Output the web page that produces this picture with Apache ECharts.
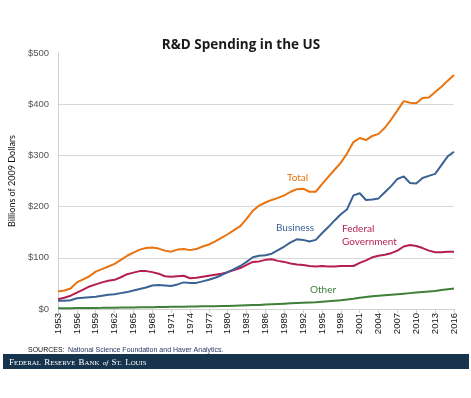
<!DOCTYPE html>
<html>
<head>
<meta charset="utf-8">
<script src="https://cdn.jsdelivr.net/npm/echarts@6/dist/echarts.min.js"></script>
<style>
  html, body { margin: 0; padding: 0; background: #fff; }
  #main { width: 471px; height: 398px; }
</style>
</head>
<body>
<div id="main"></div>
<script>
// years 1953..2016
var years = [];
for (var y = 1953; y <= 2016; y++) years.push(String(y));

// billions of 2009 dollars
var total = [34, 36, 40, 52, 58, 64, 73, 78, 83, 88, 96, 104, 110, 116, 119, 120,
  118, 114, 112, 116, 117, 115, 117, 122, 126, 132, 139, 146, 154, 162, 176, 192,
  202, 208, 213, 217, 222, 229, 234, 235, 229, 229, 244, 258, 272, 286, 304, 326,
  334, 330, 338, 342, 354, 370, 388, 406, 403, 402, 412, 413, 424, 434, 446, 457];
var business = [16, 16, 17, 21, 22, 23, 24, 26, 28, 29, 31, 33, 36, 39, 42, 46,
  47, 46, 45, 48, 52, 51, 51, 54, 57, 61, 66, 72, 78, 84, 92, 101,
  104, 105, 108, 115, 122, 130, 136, 135, 132, 135, 148, 160, 173, 185, 195, 222,
  226, 213, 214, 216, 228, 240, 254, 259, 246, 245, 256, 260, 264, 281, 298, 307];
var federal = [19, 22, 26, 32, 38, 44, 48, 52, 55, 57, 62, 68, 71, 74, 74, 72,
  69, 64, 63, 64, 65, 60, 61, 63, 65, 67, 69, 72, 76, 80, 86, 92,
  93, 96, 97, 94, 92, 89, 87, 86, 84, 83, 84, 83, 83, 84, 84, 84,
  90, 95, 101, 104, 106, 109, 114, 122, 125, 123, 119, 114, 111, 111, 112, 112];
var other = [1.5, 1.6, 1.7, 1.8, 1.9, 2, 2.1, 2.2, 2.4, 2.5, 2.7, 2.9, 3, 3.2, 3.4, 3.6,
  3.8, 4, 4.2, 4.4, 4.6, 4.8, 5, 5.2, 5.4, 5.6, 5.8, 6, 6.4, 6.8, 7.2, 7.6,
  8, 8.6, 9.2, 9.8, 10.4, 11, 11.5, 12, 12.5, 13, 14, 15, 16, 17, 18.5, 20,
  22, 23.5, 25, 26, 27, 28, 29, 30, 31, 32, 33, 34, 35, 37, 38.5, 40];

var yTicks = [0, 100, 200, 300, 400, 500];

var colors = {
  total: '#e8730f',
  business: '#3b6294',
  federal: '#b51f4e',
  other: '#3f7f3a'
};

var chart = echarts.init(document.getElementById('main'), null, { renderer: 'canvas' });

function line(name, data, color) {
  return {
    name: name,
    type: 'line',
    data: data,
    symbol: 'none',
    smooth: false,
    lineStyle: { color: color, width: 2 },
    itemStyle: { color: color }
  };
}

var option = {
  backgroundColor: '#ffffff',
  animation: false,
  title: {
    text: 'R&D Spending in the US',
    left: 236,
    top: 33,
    textAlign: 'center',
    textStyle: { fontFamily: 'Open Sans', fontSize: 13.5, fontWeight: 'bold', color: '#1a1a1a' }
  },
  grid: { left: 53, right: 17, top: 53, bottom: 89 },
  xAxis: {
    type: 'category',
    data: years,
    boundaryGap: false,
    axisLine: { lineStyle: { color: '#d0d0d0', width: 1 } },
    axisTick: { interval: 2, length: 4, lineStyle: { color: '#d0d0d0' } },
    axisLabel: {
      interval: 2,
      rotate: 90,
      margin: 4,
      fontFamily: 'Liberation Sans',
      fontSize: 9.5,
      color: '#111'
    }
  },
  yAxis: {
    type: 'value',
    min: yTicks[0],
    max: yTicks[yTicks.length - 1],
    interval: 100,
    name: 'Billions of 2009 Dollars',
    nameLocation: 'middle',
    nameGap: 36,
    nameTextStyle: { fontFamily: 'Lato', fontSize: 9, color: '#111' },
    axisLine: { show: true, lineStyle: { color: '#d0d0d0' } },
    axisTick: { show: false },
    splitLine: { show: true, showMaxLine: false, lineStyle: { color: '#d9d9d9', width: 1 } },
    axisLabel: {
      margin: 9,
      fontFamily: 'Liberation Sans',
      fontSize: 9.5,
      color: '#555',
      formatter: function (v) { return '$' + v; }
    }
  },
  series: [
    line('Other', other, colors.other),
    line('Federal Government', federal, colors.federal),
    line('Business', business, colors.business),
    line('Total', total, colors.total)
  ],
  graphic: {
    elements: [
      { type: 'text', left: 287, top: 173,
        style: { text: 'Total', fill: colors.total, font: '10px Lato' } },
      { type: 'text', left: 276, top: 223,
        style: { text: 'Business', fill: colors.business, font: '10px Lato' } },
      { type: 'text', left: 342, top: 224,
        style: { text: 'Federal', fill: colors.federal, font: '10px Lato' } },
      { type: 'text', left: 342, top: 237,
        style: { text: 'Government', fill: colors.federal, font: '10px Lato' } },
      { type: 'text', left: 310, top: 285,
        style: { text: 'Other', fill: colors.other, font: '10px Lato' } },
      { type: 'text', left: 28, top: 344,
        style: {
          text: '{b|SOURCES:} {n|National Science Foundation and Haver Analytics.}',
          rich: {
            b: { fill: '#111', font: '7px "Liberation Sans"' },
            n: { fill: '#1f2f5a', font: '7px "Liberation Sans"' }
          }
        } },
      { type: 'rect', shape: { x: 3, y: 354, width: 466, height: 15 },
        style: { fill: '#17344f' } },
      { type: 'text', left: 9, top: 357,
        style: {
          text: '{c|F}{s|EDERAL} {c|R}{s|ESERVE} {c|B}{s|ANK} {i|of} {c|S}{s|T.} {c|L}{s|OUIS}',
          rich: {
            c: { fill: '#fff', font: '9px "Liberation Serif"' },
            s: { fill: '#fff', font: '6.8px "Liberation Serif"' },
            i: { fill: '#fff', font: 'italic 7px "Liberation Serif"' }
          }
        } }
    ]
  }
};

chart.setOption(option);
</script>
</body>
</html>
